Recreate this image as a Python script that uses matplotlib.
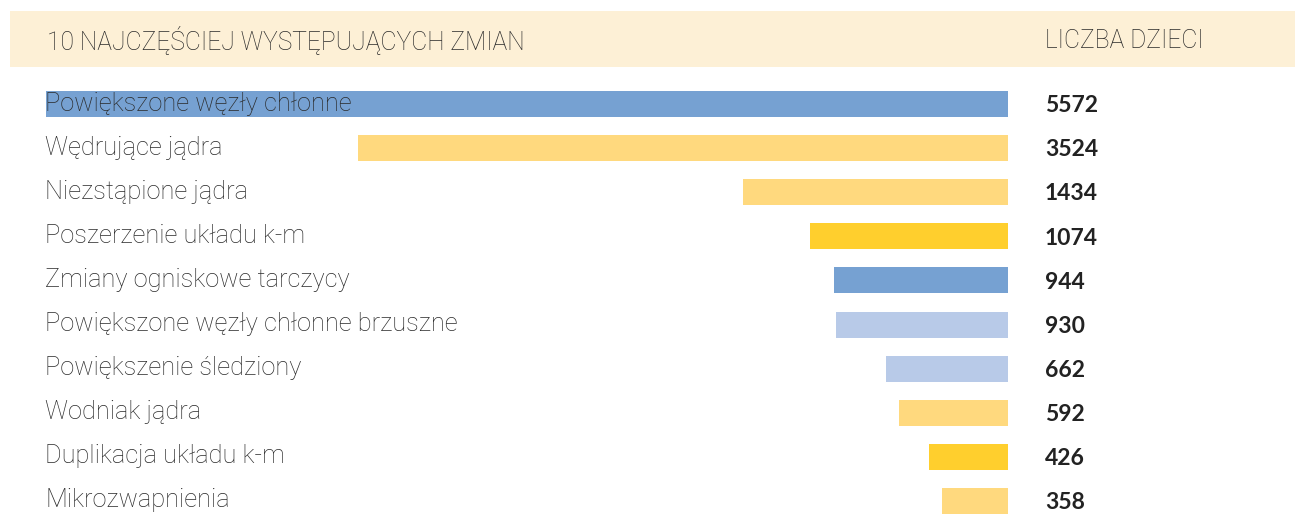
import matplotlib.pyplot as plt
import matplotlib.transforms as mtransforms
from matplotlib.patches import Rectangle

categories = [
    "Powiększone węzły chłonne",
    "Wędrujące jądra",
    "Niezstąpione jądra",
    "Poszerzenie układu k-m",
    "Zmiany ogniskowe tarczycy",
    "Powiększone węzły chłonne brzuszne",
    "Powiększenie śledziony",
    "Wodniak jądra",
    "Duplikacja układu k-m",
    "Mikrozwapnienia",
]
values = [5572, 3524, 1434, 1074, 944, 930, 662, 592, 426, 358]
colors = ["#76a1d2", "#ffd97e", "#ffd97e", "#ffcf2d", "#76a1d2",
          "#b8cae8", "#b8cae8", "#ffd97e", "#ffcf2d", "#ffd97e"]

header_left = "10 NAJCZĘŚCIEJ WYSTĘPUJĄCYCH ZMIAN"
header_right = "LICZBA DZIECI"

W, H = 1295, 514
fig = plt.figure(figsize=(W / 100, H / 100), dpi=100)

# header band
fig.patches.append(Rectangle((10 / W, 1 - 67 / H), 1 - 10 / W, 56 / H,
                             transform=fig.transFigure, facecolor="#fdf0d6",
                             edgecolor="none", zorder=0))
fig.text(47 / W, 1 - 41 / H, header_left, fontsize=17.7, family="Roboto",
         fontweight="light", color="#2a2a2a", va="center")
fig.text(1045 / W, 1 - 41 / H, header_right, fontsize=17.7, family="Roboto",
         fontweight="light", color="#2a2a2a", va="center")

# bars axes: pixels 46..1008 horizontally, 82..514 vertically
# the longest bar is cut at the left edge, like in the original
ax = fig.add_axes([46 / W, 0, (1008 - 46) / W, (514 - 82) / H])
row = 44.1
ax.barh(range(len(values)), values, height=26 / row, color=colors)
ax.set_xlim(962 / 0.1845, 0)
ax.set_ylim((514 - 104) / row, -(104 - 82) / row)
ax.axis("off")

trans = mtransforms.blended_transform_factory(fig.transFigure, ax.transData)
for i, (c, v) in enumerate(zip(categories, values)):
    ax.text(45 / W, i - 0.01, c, transform=trans, fontsize=18.3,
            family="Roboto", fontweight="light", color="#2a2a2a",
            va="center", ha="left", clip_on=False, zorder=5)
    ax.text(1045 / W, i + 0.04, str(v), transform=trans, fontsize=16.5,
            family="Lato", fontweight="bold", color="#222222", va="center",
            ha="left", clip_on=False, zorder=5)

fig.savefig("out.png", dpi=100)
